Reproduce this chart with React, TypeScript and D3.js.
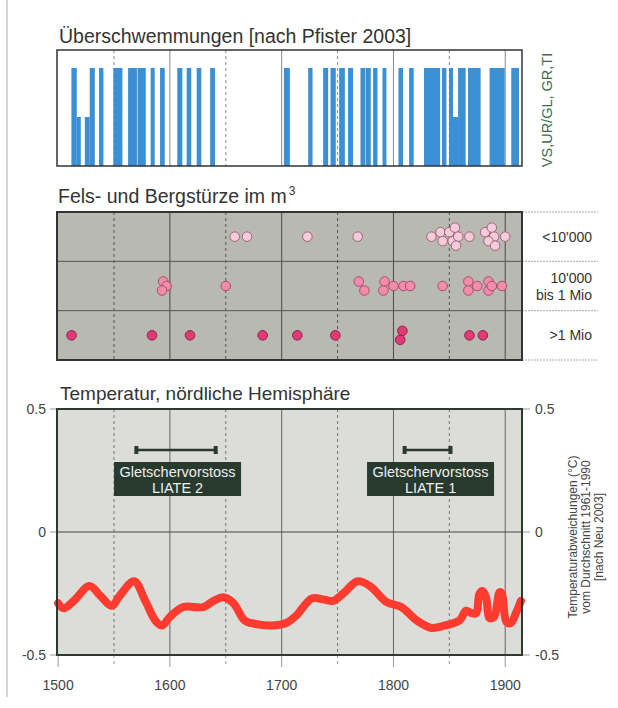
import React from "react";
import * as d3 from "d3";

// ---------- DATA ----------
// Flood bars (Pfister 2003): [startYear, endYear, level] level 1 = full, 0.5 = half
const floodStart = [1511.9, 1516.7, 1523.9, 1528.3, 1536.6, 1549.4, 1562.6, 1571, 1582.8, 1591.2, 1606.6, 1615, 1624, 1636, 1702, 1723.7, 1737.1, 1743.7, 1751.4, 1759.4, 1770.5, 1775.2, 1781.8, 1790.2, 1804.5, 1814, 1827.3, 1843.4, 1849.7, 1853.3, 1857.8, 1866.7, 1886, 1905.4];
const floodEnd = [1516.7, 1520.3, 1528.3, 1532.8, 1540.5, 1557.5, 1570.5, 1578.4, 1586.4, 1595.4, 1611.1, 1619.1, 1628.1, 1640.3, 1707.3, 1727.6, 1741.6, 1748.4, 1756.5, 1763.9, 1774.8, 1779.7, 1785.7, 1793.7, 1808.6, 1818.1, 1841.8, 1847.4, 1853.3, 1857.8, 1864.6, 1878, 1899.5, 1912.3];
const floodLevel = [1, 0.5, 0.5, 1, 1, 1, 1, 1, 1, 1, 1, 1, 1, 1, 1, 1, 1, 1, 1, 1, 1, 1, 1, 1, 1, 1, 1, 1, 1, 0.5, 1, 1, 1, 1];

// Rock falls: categories
const rockCategories = ["small", "medium", "large"];
const rockLabels = [["<10'000"], ["10'000", "bis 1 Mio"], [">1 Mio"]];
const smallYears = [1658, 1669, 1723, 1768, 1834, 1842, 1844, 1850, 1853, 1855, 1858, 1856, 1868, 1882, 1888, 1890, 1885, 1891, 1900];
const smallStack = [0, 0, 0, 0, 0, -0.5, 0.5, -0.5, 0.5, -1, 0, 1, 0, -0.5, -1, 0, 0.5, 1, 0];
const mediumYears = [1594, 1597, 1593, 1650, 1769, 1774, 1792, 1791, 1800, 1809, 1815, 1844, 1867, 1867, 1875, 1885, 1885, 1888, 1897];
const mediumStack = [-0.5, 0, 0.5, 0, -0.5, 0.5, -0.5, 0.5, 0, 0, 0, 0, -0.5, 0.5, 0, -0.5, 0.5, 0, 0];
const largeYears = [1512, 1584, 1618, 1683, 1714, 1748, 1808, 1806, 1868, 1880];
const largeStack = [0, 0, 0, 0, 0, 0, -0.5, 0.5, 0, 0];

// Temperature anomaly (°C), northern hemisphere
const tempYears = [1500, 1505, 1514, 1528, 1538, 1548, 1555, 1568, 1578, 1587, 1593, 1600, 1612, 1630, 1639, 1648, 1657, 1667, 1678, 1692, 1704, 1713, 1727, 1738, 1746, 1755, 1768, 1779, 1794, 1807, 1821, 1834, 1846, 1859, 1865, 1870, 1874, 1877, 1880, 1883, 1886, 1890, 1895, 1897, 1901, 1905, 1910, 1914];
const tempValues = [-0.29, -0.31, -0.28, -0.22, -0.26, -0.3, -0.26, -0.2, -0.28, -0.36, -0.38, -0.345, -0.305, -0.305, -0.28, -0.265, -0.29, -0.36, -0.375, -0.38, -0.37, -0.34, -0.27, -0.275, -0.28, -0.25, -0.2, -0.22, -0.285, -0.305, -0.36, -0.39, -0.38, -0.36, -0.32, -0.33, -0.33, -0.25, -0.24, -0.27, -0.35, -0.345, -0.245, -0.25, -0.365, -0.37, -0.325, -0.28];

// Glacier advances
const glacierNames = ["LIATE 2", "LIATE 1"];
const glacierStart = [1570, 1810];
const glacierEnd = [1641, 1851];

const centuryTicks = [1500, 1600, 1700, 1800, 1900];
const halfTicks = [1550, 1650, 1750, 1850];
const tempTicks = [0.5, 0, -0.5];
const tempTickLabels = ["0.5", "0", "-0.5"];

// ---------- LAYOUT ----------
const W = 618;
const H = 708;
const FONT = "'Liberation Sans', Arial, Helvetica, sans-serif";
const left = 57;
const right = 522;

export default function App() {
  const x = d3.scaleLinear().domain([1499, 1915]).range([left, right]);

  // top panel
  const fTop = 50, fBot = 166;
  const fy = d3.scaleLinear().domain([0, 1]).range([fBot, 68]);

  // middle panel
  const mTop = 212, mBot = 360;
  const band = d3.scaleBand().domain(rockCategories).range([mTop, mBot]);
  const stackScale = d3.scaleLinear().domain([-1, 1]).range([-9, 9]);

  // bottom panel
  const tTop = 409, tBot = 655;
  const ty = d3.scaleLinear().domain([-0.5, 0.5]).range([tBot, tTop]);
  const line = d3
    .line<number>()
    .x((_, i) => x(tempYears[i]))
    .y((d) => ty(d))
    .curve(d3.curveCatmullRom.alpha(0.5));

  const rockSets = [
    { years: smallYears, stack: smallStack, fill: "#f5cadb", stroke: "#9c6577" },
    { years: mediumYears, stack: mediumStack, fill: "#f28cad", stroke: "#a84d6b" },
    { years: largeYears, stack: largeStack, fill: "#e23a75", stroke: "#8e2049" },
  ];

  const vLines = (y0: number, y1: number, solidColor: string, dashColor: string, sw = 1) => (
    <g>
      {centuryTicks.slice(1).map((t) => (
        <line key={"c" + t} x1={x(t)} x2={x(t)} y1={y0} y2={y1} stroke={solidColor} strokeWidth={sw} />
      ))}
      {halfTicks.map((t) => (
        <line key={"h" + t} x1={x(t)} x2={x(t)} y1={y0} y2={y1} stroke={dashColor} strokeWidth={1} strokeDasharray="3,3" />
      ))}
    </g>
  );

  return (
    <svg width={W} height={H} style={{ position: "absolute", left: 0, top: 0, background: "#fff" }} fontFamily={FONT}>
      <rect x={0} y={0} width={W} height={H} fill="#fff" />
      <line x1={7} x2={7} y1={0} y2={697} stroke="#aaa" strokeWidth={1} />

      {/* ---------- TOP PANEL ---------- */}
      <text x={59} y={43} fontSize={19.5} fill="#333">Überschwemmungen [nach Pfister 2003]</text>
      <rect x={left} y={fTop} width={right - left} height={fBot - fTop} fill="#fff" />
      {vLines(fTop, fBot, "#888", "#888")}
      {floodStart.map((s, i) => (
        <rect key={i} x={x(s)} y={fy(floodLevel[i])} width={x(floodEnd[i]) - x(s)} height={fBot - fy(floodLevel[i])} fill="#3a8fd5" />
      ))}
      <rect x={left} y={fTop} width={right - left} height={fBot - fTop} fill="none" stroke="#333" strokeWidth={1.5} />
      <text transform={`translate(552,110) rotate(-90)`} textAnchor="middle" fontSize={14.5} fill="#3f6b4e">VS,UR/GL, GR,TI</text>

      {/* ---------- MIDDLE PANEL ---------- */}
      <text x={58} y={203} fontSize={19.5} fill="#333">
        Fels- und Bergstürze im m<tspan dx={2} dy={-8} fontSize={12}>3</tspan>
      </text>
      <rect x={left} y={mTop} width={right - left} height={mBot - mTop} fill="#b8b9b1" />
      {vLines(mTop, mBot, "#4a4a4a", "#555")}
      {rockCategories.map((c, i) => (
        <line key={"r" + c} x1={left} x2={right} y1={band(c)!} y2={band(c)!} stroke="#555" strokeWidth={1} />
      ))}
      <line x1={right} x2={598} y1={mBot} y2={mBot} stroke="#aaa" strokeWidth={1} strokeDasharray="2,1" />
      {rockCategories.map((c) => (
        <line key={"rl" + c} x1={right} x2={598} y1={band(c)!} y2={band(c)!} stroke="#aaa" strokeWidth={1} strokeDasharray="2,1" />
      ))}
      {rockCategories.map((c, i) => {
        const cy = band(c)! + band.bandwidth() / 2;
        const set = rockSets[i];
        return (
          <g key={"d" + c}>
            {set.years.map((yr, j) => (
              <circle key={j} cx={x(yr)} cy={cy + stackScale(set.stack[j])} r={4.8} fill={set.fill} stroke={set.stroke} strokeWidth={1} />
            ))}
          </g>
        );
      })}
      <rect x={left} y={mTop} width={right - left} height={mBot - mTop} fill="none" stroke="#333" strokeWidth={2} />
      {rockCategories.map((c, i) => {
        const cy = band(c)! + band.bandwidth() / 2;
        const lines = rockLabels[i];
        return (
          <text key={"l" + c} x={592} y={cy + 5 - (lines.length - 1) * 8.5} textAnchor="end" fontSize={14} fill="#333">
            {lines.map((l, k) => (
              <tspan key={k} x={592} dy={k === 0 ? 0 : 17}>{l}</tspan>
            ))}
          </text>
        );
      })}

      {/* ---------- BOTTOM PANEL ---------- */}
      <text x={60} y={400} fontSize={19} fill="#333">Temperatur, nördliche Hemisphäre</text>
      <rect x={left} y={tTop} width={right - left} height={tBot - tTop} fill="#dcdcd9" />
      {vLines(tTop, tBot, "#666", "#777")}
      <line x1={left} x2={right} y1={ty(0)} y2={ty(0)} stroke="#444" strokeWidth={1.2} />
      {/* x ticks below */}
      {centuryTicks.map((t) => (
        <line key={"xt" + t} x1={x(t)} x2={x(t)} y1={tBot} y2={tBot + 12} stroke="#999" strokeWidth={1} />
      ))}
      {halfTicks.map((t) => (
        <line key={"xh" + t} x1={x(t)} x2={x(t)} y1={tBot} y2={tBot + 10} stroke="#999" strokeWidth={1} strokeDasharray="3,3" />
      ))}
      {centuryTicks.map((t) => (
        <text key={"xl" + t} x={x(t)} y={690} textAnchor="middle" fontSize={14} fill="#444">{t}</text>
      ))}
      {/* y ticks */}
      {tempTicks.map((v, i) => (
        <g key={"yt" + i}>
          <line x1={50} x2={left} y1={ty(v)} y2={ty(v)} stroke="#999" />
          <line x1={right} x2={530} y1={ty(v)} y2={ty(v)} stroke="#999" />
          <text x={46} y={ty(v) + 5} textAnchor="end" fontSize={14} fill="#444">{tempTickLabels[i]}</text>
          <text x={535} y={ty(v) + 5} textAnchor="start" fontSize={14} fill="#444">{tempTickLabels[i]}</text>
        </g>
      ))}

      {/* glacier advances */}
      {glacierNames.map((n, i) => {
        const x0 = x(glacierStart[i]);
        const x1 = x(glacierEnd[i]);
        const cx = (x0 + x1) / 2;
        const by = 450;
        const bw = 127;
        const off = i === 0 ? 1.5 : 3;
        return (
          <g key={"g" + i}>
            <line x1={x0} x2={x1} y1={by} y2={by} stroke="#2a3a30" strokeWidth={2.5} />
            <rect x={x0 - 2} y={by - 4} width={4} height={8} fill="#2a3a30" />
            <rect x={x1 - 2} y={by - 4} width={4} height={8} fill="#2a3a30" />
            <rect x={cx - bw / 2 + off} y={462} width={bw} height={34} fill="#283a2d" />
            <text x={cx + off} y={476.5} textAnchor="middle" fontSize={14.5} fill="#eee">Gletschervorstoss</text>
            <text x={cx + off} y={493} textAnchor="middle" fontSize={14.5} fill="#eee">{n}</text>
          </g>
        );
      })}

      <path d={line(tempValues) || ""} fill="none" stroke="#ff3b30" strokeWidth={8} strokeLinejoin="round" strokeLinecap="round" />
      <rect x={left} y={tTop} width={right - left} height={tBot - tTop} fill="none" stroke="#2c3a30" strokeWidth={2} />

      {/* right axis title */}
      <g transform="translate(586,537) rotate(-90)" fontSize={12} fill="#444">
        <text x={0} y={-9} textAnchor="middle">Temperaturabweichungen (°C)</text>
        <text x={0} y={4} textAnchor="middle">vom Durchschnitt 1961-1990</text>
        <text x={0} y={17} textAnchor="middle">[nach Neu 2003]</text>
      </g>
    </svg>
  );
}
